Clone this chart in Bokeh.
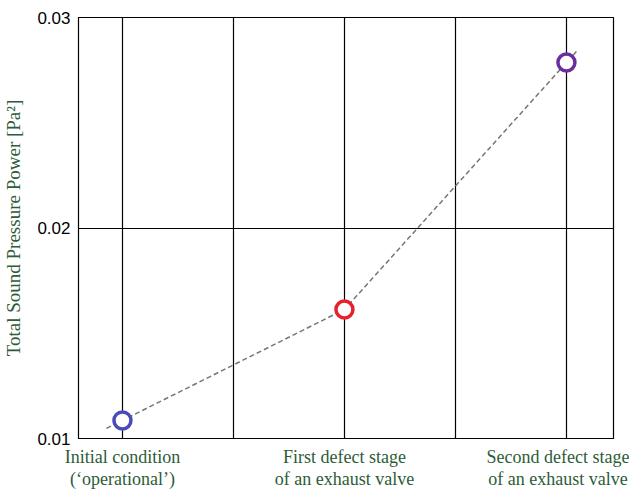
from bokeh.plotting import figure
from bokeh.models import Range1d, FixedTicker, ColumnDataSource
from bokeh.embed import file_html
from bokeh.resources import INLINE

# Data
categories = ["Initial condition\n(\u2018operational\u2019)",
              "First defect stage\nof an exhaust valve",
              "Second defect stage\nof an exhaust valve"]
positions = [1, 2, 3]
values = [0.01086, 0.01613, 0.02786]
colors = ["#4a4ab8", "#e8202e", "#6a2e9e"]
y_ticks = [0.01, 0.02, 0.03]
y_tick_labels = ["0.01", "0.02", "0.03"]
grid_x = [1, 1.5, 2, 2.5, 3]

# dashed trend line through points, slightly extended at ends
ext_l, ext_r = 0.072, 0.05
x0 = positions[0] - ext_l
y0 = values[0] - ext_l * (values[1] - values[0]) / (positions[1] - positions[0])
xn = positions[-1] + ext_r
yn = values[-1] + ext_r * (values[-1] - values[-2]) / (positions[-1] - positions[-2])
line_x = [x0] + positions + [xn]
line_y = [y0] + values + [yn]

p = figure(frame_width=535, frame_height=421, output_backend="svg", toolbar_location=None,
           x_range=Range1d(0.802, 3.212), y_range=Range1d(0.01, 0.03),
           min_border_left=69, min_border_right=16, min_border_top=17, min_border_bottom=50)
p.background_fill_color = "white"
p.border_fill_color = "white"
p.outline_line_color = "black"
p.outline_line_width = 1.2

green = "#2d5c38"

p.xaxis.ticker = FixedTicker(ticks=grid_x)
p.xaxis.major_label_overrides = {1: categories[0], 1.5: "", 2: categories[1], 2.5: "", 3: categories[2]}
p.xaxis.major_label_text_font = "Liberation Serif"
p.xaxis.major_label_text_font_size = "18px"
p.xaxis.major_label_text_line_height = 1.1
p.xaxis.major_label_text_color = green
p.xaxis.major_label_standoff = 8
p.xaxis.major_tick_in = 3
p.xaxis.major_tick_out = 0
p.xaxis.minor_tick_line_color = None
p.xaxis.axis_line_color = "black"

p.yaxis.ticker = FixedTicker(ticks=y_ticks)
p.yaxis.major_label_overrides = dict(zip(y_ticks, y_tick_labels))
p.yaxis.major_label_text_font = "Liberation Sans"
p.yaxis.major_label_text_font_size = "17px"
p.yaxis.major_label_text_color = "black"
p.yaxis.major_label_standoff = 8
p.yaxis.major_tick_in = 4
p.yaxis.major_tick_out = 0
p.yaxis.minor_tick_line_color = None
p.yaxis.axis_label = "Total Sound Pressure Power [Pa\u00b2]"
p.yaxis.axis_label_text_font = "Liberation Serif"
p.yaxis.axis_label_text_font_style = "normal"
p.yaxis.axis_label_text_font_size = "19px"
p.yaxis.axis_label_text_color = green
p.yaxis.axis_label_standoff = 10

p.xgrid.ticker = FixedTicker(ticks=grid_x)
p.xgrid.grid_line_color = "black"
p.xgrid.grid_line_width = 1.2
p.ygrid.ticker = FixedTicker(ticks=y_ticks)
p.ygrid.grid_line_color = "black"
p.ygrid.grid_line_width = 1.2

p.line(line_x, line_y, line_color="#6f7a70", line_width=1.5, line_dash="5 3")

src = ColumnDataSource(dict(x=positions, y=values, c=colors))
p.scatter("x", "y", source=src, size=17, fill_color="white", line_color="c", line_width=3.5)

open("out.html", "w").write(file_html(p, INLINE))
